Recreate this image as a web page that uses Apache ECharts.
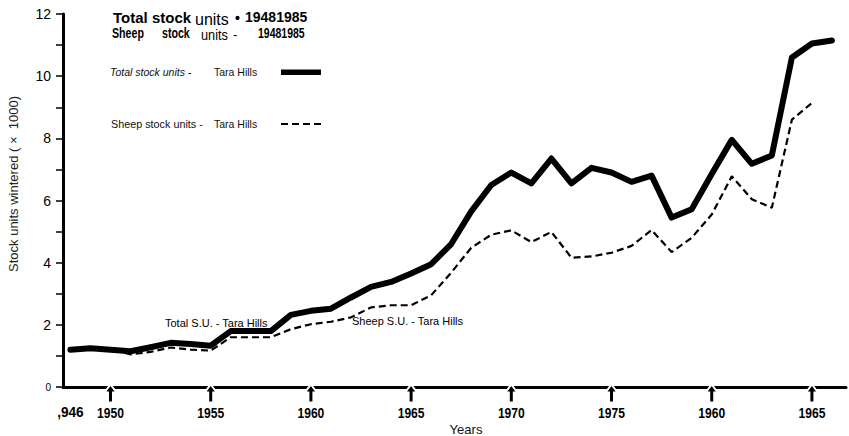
<!DOCTYPE html>
<html>
<head>
<meta charset="utf-8">
<script src="https://cdn.jsdelivr.net/npm/echarts@6/dist/echarts.min.js"></script>
<style>
html,body{margin:0;padding:0;background:#fff;}
#chart{width:849px;height:436px;}
</style>
</head>
<body>
<div id="chart"></div>
<script>
// ---- data ----
var totalYears = [1948,1949,1950,1951,1952,1953,1954,1955,1956,1957,1958,1959,1960,1961,1962,1963,1964,1965,1966,1967,1968,1969,1970,1971,1972,1973,1974,1975,1976,1977,1978,1979,1980,1981,1982,1983,1984,1985,1986];
var totalUnits = [1.2,1.25,1.2,1.15,1.28,1.42,1.38,1.33,1.8,1.8,1.8,2.32,2.45,2.52,2.88,3.22,3.38,3.65,3.95,4.6,5.65,6.5,6.9,6.55,7.35,6.55,7.05,6.9,6.6,6.8,5.45,5.72,6.85,7.95,7.18,7.45,10.6,11.05,11.15];
var sheepYears = [1948,1949,1950,1951,1952,1953,1954,1955,1956,1957,1958,1959,1960,1961,1962,1963,1964,1965,1966,1967,1968,1969,1970,1971,1972,1973,1974,1975,1976,1977,1978,1979,1980,1981,1982,1983,1984,1985];
var sheepUnits = [1.2,1.25,1.2,1.05,1.13,1.27,1.2,1.17,1.6,1.6,1.6,1.86,2.02,2.1,2.24,2.56,2.63,2.63,2.95,3.68,4.48,4.9,5.04,4.66,4.99,4.16,4.2,4.32,4.54,5.05,4.34,4.8,5.55,6.78,6.04,5.77,8.6,9.14];
var tickYears = [1948,1950,1955,1960,1965,1970,1975,1980,1985];
var tickLabels = [',946','1950','1955','1960','1965','1970','1975','1960','1965'];
var seriesNames = ['Total stock units - Tara Hills','Sheep stock units - Tara Hills'];

function pairs(xs, ys){ return xs.map(function(x,i){ return [x, ys[i]]; }); }

var sans = '"Liberation Sans",Arial,Helvetica,sans-serif';

function txt(x, y, text, font, sx, extra){
  var o = { type:'text', x:x, y:y, scaleX:sx||1, style:{ text:text, font:font, fill:'#000', verticalAlign:'middle' } };
  if (extra) for (var k in extra) o.style[k] = extra[k];
  return o;
}

var ARROW = 'M6,0 L12,8 L8.5,8 L8.5,18 L3.5,18 L3.5,8 L0,8 Z';

function renderTick(params, api){
  var i = params.dataIndex;
  var pt = api.coord([api.value(0), api.value(1)]);
  var children = [];
  var first = (i === 0);
  if (!first) {
    children.push({ type:'path', shape:{ pathData:ARROW, x:pt[0]-6, y:pt[1]-2.5, width:12, height:18 },
      style:{ fill:'#000', stroke:'#fff', lineWidth:2 } });
  }
  children.push({ type:'text', x:pt[0], y:pt[1]+25, scaleX: first ? 0.88 : 0.78,
    style:{ text:tickLabels[i], font:'bold 15.5px '+sans, fill:'#000', align:'center', verticalAlign:'middle' } });
  return { type:'group', children:children };
}

var chart = echarts.init(document.getElementById('chart'), null, {renderer:'svg'});
chart.setOption({
  backgroundColor:'#fff',
  animation:false,
  grid:{ left:63, right:3, top:14, bottom:49 },
  xAxis:{
    type:'value', min:1947.63, max:1986.7,
    axisLine:{ show:true, lineStyle:{ color:'#000', width:3 } },
    axisTick:{ show:false }, axisLabel:{ show:false }, splitLine:{ show:false }
  },
  yAxis:{
    type:'value', min:0, max:12, interval:1,
    axisLine:{ show:true, lineStyle:{ color:'#000', width:3 } },
    axisTick:{ show:true, inside:false, length:7, lineStyle:{ color:'#000', width:1.5 } },
    splitLine:{ show:false },
    axisLabel:{
      margin:12, color:'#000', fontFamily:sans, fontSize:14,
      formatter:function(v){ if(v===0) return '{z|0}'; return v%2===0 ? String(v) : ''; },
      rich:{ z:{ fontSize:10, fontFamily:sans, color:'#000' } }
    }
  },
  legend:{
    orient:'vertical', left:110, top:66, padding:0, itemGap:40,
    align:'right', itemWidth:40, itemHeight:10, symbolKeepAspect:false,
    itemStyle:{ borderWidth:0 },
    data:[
      { name:seriesNames[0], icon:'path://M0,0 M40,10 M0,2.5h40v5.5h-40z' },
      { name:seriesNames[1], icon:'path://M0,0 M40,10 M0,4h7v2h-7z M11,4h7v2h-7z M22,4h7v2h-7z M33,4h7v2h-7z' }
    ],
    formatter:function(name){
      var p = name.split(' - ');
      var key = name.indexOf('Total')===0 ? 'ai' : 'a';
      return '{'+key+'|'+p[0]+' -}{b|'+p[1]+'}';
    },
    textStyle:{
      color:'#111', fontFamily:sans, fontSize:10.5, lineHeight:12,
      rich:{
        ai:{ width:104, align:'left', fontStyle:'italic', fontSize:10.5, fontFamily:sans, color:'#111' },
        a:{ width:103, align:'left', fontSize:10.8, fontFamily:sans, color:'#111' },
        b:{ width:62, align:'left', fontSize:10.5, fontFamily:sans, color:'#111' }
      }
    }
  },
  series:[
    { name:seriesNames[0], type:'line', data:pairs(totalYears,totalUnits), symbol:'none',
      lineStyle:{ color:'#000', width:6, cap:'round', join:'round' }, itemStyle:{ color:'#000' }, z:3 },
    { name:seriesNames[1], type:'line', data:pairs(sheepYears,sheepUnits), symbol:'none',
      lineStyle:{ color:'#000', width:2.2, type:[7,4] }, itemStyle:{ color:'#000' }, z:2 },
    { name:'ticks', type:'custom', z:5, silent:true, clip:false,
      data:tickYears.map(function(y){ return [y, 0]; }),
      renderItem:renderTick }
  ],
  graphic:[
    txt(113, 17, 'Total stock', 'bold 15px '+sans),
    txt(195, 19, 'units', '16px '+sans),
    txt(235, 18, '\u2022', 'bold 14px '+sans),
    txt(245, 17, '19481985', 'bold 14px '+sans),
    txt(112, 33, 'Sheep', 'bold 14px '+sans, 0.76),
    txt(162, 33, 'stock', 'bold 14px '+sans, 0.76),
    txt(201, 35, 'units', '15px '+sans, 0.85),
    txt(233, 34, '-', '13px '+sans),
    txt(258, 33, '19481985', 'bold 14px '+sans, 0.75),
    txt(165, 323, 'Total S.U. - Tara Hills', '11px '+sans),
    txt(352, 321, 'Sheep S.U. - Tara Hills', '11px '+sans),
    { type:'text', x:13, y:184, rotation:Math.PI/2, style:{ text:'Stock units wintered ( \u00d7  1000)', font:'13px '+sans, fill:'#222', align:'center', verticalAlign:'middle' } },
    { type:'text', x:466, y:429, style:{ text:'Years', font:'13px '+sans, fill:'#111', align:'center', verticalAlign:'middle' } }
  ]
});
</script>
</body>
</html>
